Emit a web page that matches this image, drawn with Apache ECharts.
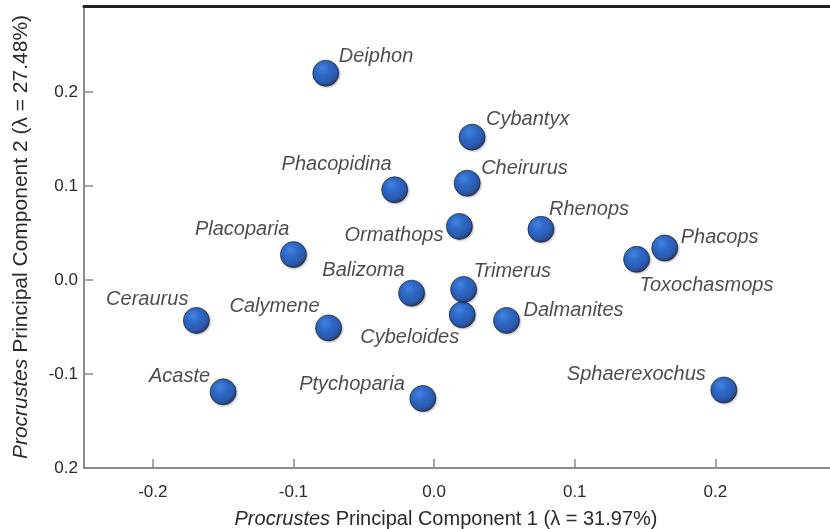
<!DOCTYPE html>
<html>
<head>
<meta charset="utf-8">
<script src="https://cdn.jsdelivr.net/npm/echarts@6/dist/echarts.min.js"></script>
<style>
  html, body { margin: 0; padding: 0; background: #fff; }
  #chart { width: 830px; height: 529px; }
</style>
</head>
<body>
<div id="chart"></div>
<script>
// taxa and their Procrustes PC scores
var taxa = ['Deiphon', 'Cybantyx', 'Phacopidina', 'Cheirurus', 'Ormathops', 'Rhenops',
  'Phacops', 'Toxochasmops', 'Placoparia', 'Balizoma', 'Trimerus', 'Cybeloides',
  'Dalmanites', 'Ceraurus', 'Calymene', 'Acaste', 'Ptychoparia', 'Sphaerexochus'];
var pc1 = [-0.077, 0.027, -0.028, 0.0235, 0.018, 0.076,
  0.164, 0.144, -0.100, -0.016, 0.021, 0.020,
  0.0515, -0.169, -0.075, -0.150, -0.008, 0.206];
var pc2 = [0.220, 0.152, 0.096, 0.103, 0.057, 0.054,
  0.034, 0.022, 0.027, -0.014, -0.010, -0.037,
  -0.043, -0.043, -0.051, -0.119, -0.126, -0.117];

// axis ticks
var xTickValues = [-0.2, -0.1, 0, 0.1, 0.2];
var xTickLabels = ['-0.2', '-0.1', '0.0', '0.1', '0.2'];
var yTickValues = [-0.2, -0.1, 0, 0.1, 0.2];
var yTickLabels = ['0.2', '-0.1', '0.0', '0.1', '0.2'];

// where each name sits next to its ball: [align, dx, dy]
var labelPlace = {
  Deiphon: ['left', 13, -17],
  Cybantyx: ['left', 14, -18],
  Phacopidina: ['right', -3, -25],
  Cheirurus: ['left', 14, -15],
  Ormathops: ['right', -16, 9],
  Rhenops: ['left', 8, -20],
  Phacops: ['left', 16, -11],
  Toxochasmops: ['left', 3, 26],
  Placoparia: ['right', -4, -25],
  Balizoma: ['right', -7, -23],
  Trimerus: ['left', 10, -18],
  Cybeloides: ['right', -3, 23],
  Dalmanites: ['left', 17, -10],
  Ceraurus: ['right', -8, -21],
  Calymene: ['right', -9, -22],
  Acaste: ['right', -13, -15],
  Ptychoparia: ['right', -18, -14],
  Sphaerexochus: ['right', -18, -16]
};

var FONT = '"Liberation Sans", Arial, sans-serif';

function tickText(values, labels) {
  return function (v) {
    for (var i = 0; i < values.length; i++) {
      if (Math.abs(values[i] - v) < 1e-6) return labels[i];
    }
    return '';
  };
}

var points = [];
for (var i = 0; i < taxa.length; i++) {
  var p = labelPlace[taxa[i]];
  points.push({
    name: taxa[i],
    value: [pc1[i], pc2[i]],
    label: { align: p[0], offset: [p[1], p[2]] }
  });
}

var chart = echarts.init(document.getElementById('chart'));

chart.setOption({
  backgroundColor: '#fff',
  animation: false,
  grid: { left: 84, right: 0, top: 6, bottom: 61, containLabel: false, outerBoundsMode: 'none' },
  xAxis: [{
    type: 'value',
    min: -0.2489,
    max: 0.2815,
    splitLine: { show: false },
    axisLine: { onZero: false, lineStyle: { color: '#8c8c8c', width: 2 } },
    axisTick: { inside: true, length: 9, customValues: xTickValues, lineStyle: { color: '#8c8c8c', width: 1.5 } },
    axisLabel: {
      customValues: xTickValues,
      formatter: tickText(xTickValues, xTickLabels),
      margin: 16, fontSize: 17, color: '#2a2a2a', fontFamily: FONT
    },
    name: '{i|Procrustes} Principal Component 1 (λ = 31.97%)',
    nameLocation: 'middle',
    nameGap: 41,
    nameTextStyle: {
      fontSize: 20, color: '#2a2a2a', fontFamily: FONT, padding: [0, 22, 0, 0],
      rich: { i: { fontStyle: 'italic', fontSize: 20, color: '#2a2a2a', fontFamily: FONT } }
    }
  }, {
    type: 'value',
    position: 'top',
    min: -0.2489,
    max: 0.2815,
    splitLine: { show: false },
    axisLine: { onZero: false, lineStyle: { color: '#222', width: 3 } },
    axisTick: { show: false },
    axisLabel: { show: false }
  }],
  yAxis: {
    type: 'value',
    min: -0.2,
    max: 0.2915,
    splitLine: { show: false },
    axisLine: { onZero: false, lineStyle: { color: '#8c8c8c', width: 2 } },
    axisTick: { inside: true, length: 9, customValues: yTickValues, lineStyle: { color: '#8c8c8c', width: 1.5 } },
    axisLabel: {
      customValues: yTickValues,
      formatter: tickText(yTickValues, yTickLabels),
      margin: 6, fontSize: 17, color: '#2a2a2a', fontFamily: FONT
    },
    name: '{i|Procrustes} Principal Component 2 (λ = 27.48%)',
    nameLocation: 'middle',
    nameGap: 52,
    nameTextStyle: {
      fontSize: 21, color: '#2a2a2a', fontFamily: FONT,
      rich: { i: { fontStyle: 'italic', fontSize: 21, color: '#2a2a2a', fontFamily: FONT } }
    }
  },
  series: [{
    type: 'scatter',
    xAxisIndex: 0,
    symbol: 'circle',
    symbolSize: 26,
    data: points,
    itemStyle: {
      color: {
        type: 'radial', x: 0.38, y: 0.32, r: 0.72,
        colorStops: [
          { offset: 0, color: '#2574e6' },
          { offset: 0.35, color: '#0a55cc' },
          { offset: 0.75, color: '#053fa6' },
          { offset: 1, color: '#021640' }
        ]
      },
      borderColor: '#081838',
      borderWidth: 0.8,
      shadowBlur: 2,
      shadowColor: 'rgba(0,0,0,0.3)',
      shadowOffsetX: 1,
      shadowOffsetY: 1
    },
    label: {
      show: true,
      position: 'inside',
      formatter: '{b}',
      verticalAlign: 'middle',
      fontSize: 20,
      fontStyle: 'italic',
      color: '#1e1e1e',
      fontFamily: FONT
    },
    emphasis: { disabled: true }
  }]
});
</script>
</body>
</html>
